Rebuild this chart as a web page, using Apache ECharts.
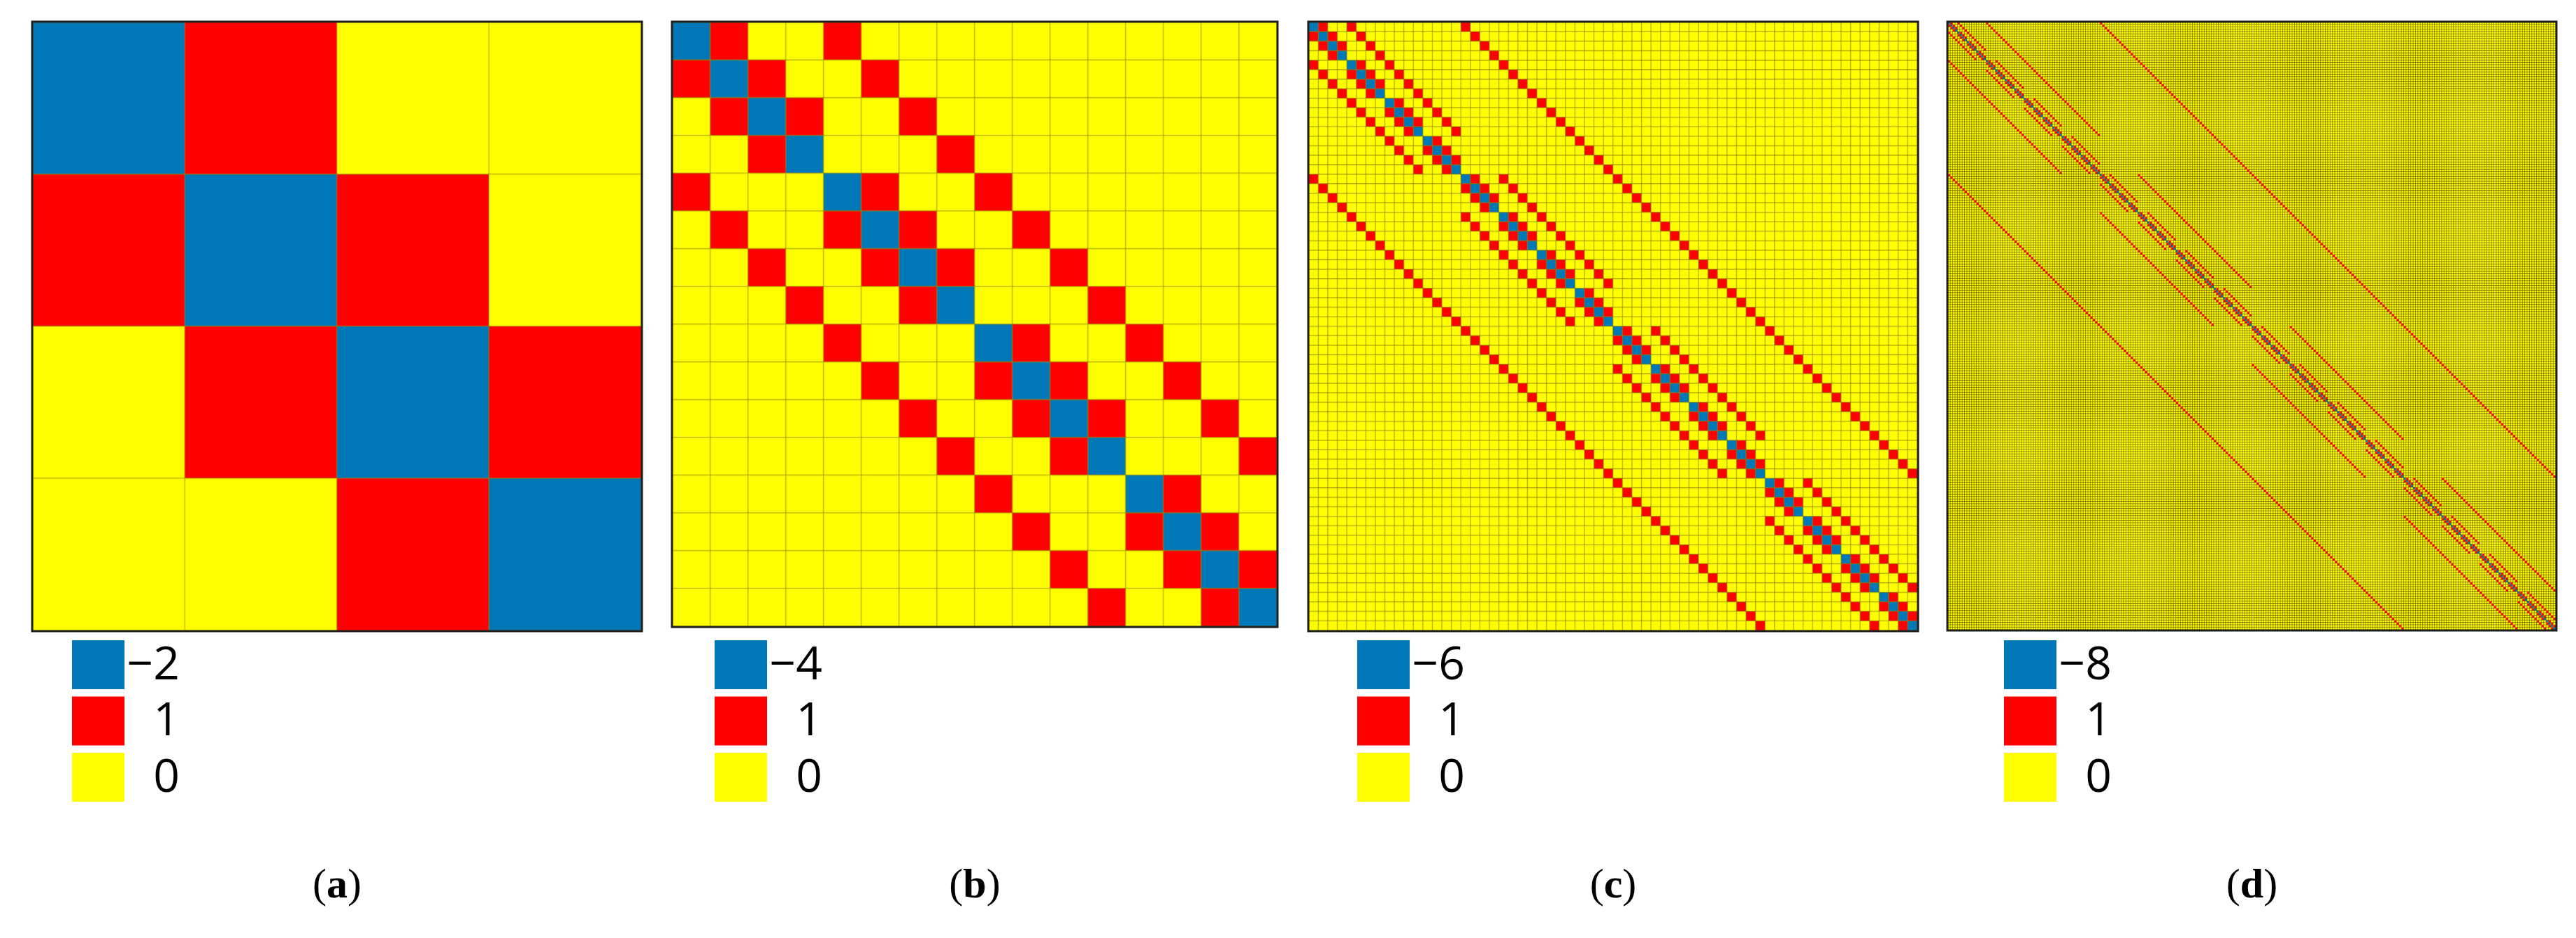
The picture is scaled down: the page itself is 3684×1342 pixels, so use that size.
<!DOCTYPE html>
<html>
<head>
<meta charset="utf-8">
<script src="https://cdn.jsdelivr.net/npm/echarts@6/dist/echarts.min.js"></script>
<style>
html,body{margin:0;padding:0;background:#fff;}
#chart{width:3684px;height:1342px;}
</style>
</head>
<body>
<div id="chart"></div>
<script>
// ---- data ----
const panelLabels = ['a', 'b', 'c', 'd'];
const pointsPerAxis = 4;                 // each grid axis holds 4 points
const panelDimensions = [1, 2, 3, 4];    // 4, 16, 64, 256 rows/cols
const diagonalValues = [-2, -4, -6, -8];
const neighbourValue = 1;
const emptyValue = 0;
const legendLabels = [
  ['\u22122', '1', '0'],
  ['\u22124', '1', '0'],
  ['\u22126', '1', '0'],
  ['\u22128', '1', '0']
];

// ---- styles / layout ----
const BLUE = '#0077b6', RED = '#ff0000', YELLOW = '#ffff00';
const gridLefts = [47, 962, 1872, 2786];
const gridSizes = [870, 864, 870, 869];
const gridTop = 32;
const legendOffsets = [56, 60, 69, 80];
const cellBorders = [
  { c: 'rgba(150,140,0,0.35)', w: 2 },
  { c: 'rgba(150,140,0,0.4)', w: 2 },
  { c: 'rgba(140,130,0,0.5)', w: 1.5 },
  { c: 'rgba(90,80,0,0.55)', w: 1 }
];
const denseMarkBorder = 'rgba(255,120,0,0.7)';

function digits(i, d) {
  const out = [];
  for (let k = 0; k < d; k++) { out.push(i % pointsPerAxis); i = Math.floor(i / pointsPerAxis); }
  return out;
}
function buildMatrix(p) {
  const d = panelDimensions[p];
  const n = Math.pow(pointsPerAxis, d);
  const digs = [];
  for (let i = 0; i < n; i++) digs.push(digits(i, d));
  const data = [];
  for (let r = 0; r < n; r++) {
    for (let c = 0; c < n; c++) {
      let v = emptyValue;
      if (r === c) v = diagonalValues[p];
      else {
        let diff = 0, ok = true;
        for (let k = 0; k < d; k++) {
          const dd = Math.abs(digs[r][k] - digs[c][k]);
          if (dd === 0) continue;
          if (dd === 1) diff++; else { ok = false; break; }
        }
        if (ok && diff === 1) v = neighbourValue;
      }
      if (p === 3 && v === neighbourValue) {
        data.push({ value: [c, r, v], itemStyle: { borderColor: denseMarkBorder } });
      } else {
        data.push([c, r, v]);
      }
    }
  }
  return { n, data };
}

const grids = [], xAxes = [], yAxes = [], series = [], graphics = [];
panelLabels.forEach((lab, p) => {
  const m = buildMatrix(p);
  const cats = [];
  for (let i = 0; i < m.n; i++) cats.push(String(i));
  grids.push({ left: gridLefts[p], top: gridTop, width: gridSizes[p], height: gridSizes[p] });
  const axisCommon = { type: 'category', data: cats, gridIndex: p,
    axisLine: { show: false }, axisTick: { show: false }, axisLabel: { show: false }, splitLine: { show: false } };
  xAxes.push(Object.assign({}, axisCommon));
  yAxes.push(Object.assign({ inverse: true }, axisCommon));
  series.push({
    type: 'heatmap', xAxisIndex: p, yAxisIndex: p, data: m.data,
    progressive: 0, animation: false,
    itemStyle: { borderColor: cellBorders[p].c, borderWidth: cellBorders[p].w },
    emphasis: { disabled: true }
  });
  // frame
  graphics.push({
    type: 'rect', z: 100, silent: true,
    shape: { x: gridLefts[p] - 1, y: gridTop - 1, width: gridSizes[p] + 2, height: gridSizes[p] + 2 },
    style: { fill: null, stroke: '#1e1e1e', lineWidth: 3 }
  });
  // legend
  const colors = [BLUE, RED, YELLOW];
  const lx = gridLefts[p] + legendOffsets[p];
  legendLabels[p].forEach((t, k) => {
    const y = 916 + k * 80.5;
    graphics.push({ type: 'rect', z: 50, shape: { x: lx, y: y, width: 75, height: 70 }, style: { fill: colors[k] } });
    graphics.push({ type: 'text', z: 50, x: lx + 154, y: y + 37,
      style: { text: t, font: '66px "Open Sans"', fill: '#000', textAlign: 'right', textVerticalAlign: 'middle' } });
  });
  // caption
  graphics.push({ type: 'text', z: 50, x: gridLefts[p] + gridSizes[p] / 2, y: 1268,
    style: { text: '(' + '{b|' + lab + '})', font: '60px "Liberation Serif"', fill: '#000',
      textAlign: 'center', textVerticalAlign: 'middle',
      rich: { b: { font: 'bold 60px "Liberation Serif"', fill: '#000' } } } });
});

const chart = echarts.init(document.getElementById('chart'), null, { renderer: 'canvas' });
chart.setOption({
  animation: false,
  backgroundColor: '#fff',
  grid: grids, xAxis: xAxes, yAxis: yAxes,
  visualMap: {
    type: 'piecewise', show: false, dimension: 2, seriesIndex: [0, 1, 2, 3],
    pieces: [
      { lt: -1, color: BLUE },
      { gte: 0.5, color: RED },
      { gte: -0.5, lt: 0.5, color: YELLOW }
    ]
  },
  series: series,
  graphic: graphics
});
</script>
</body>
</html>
